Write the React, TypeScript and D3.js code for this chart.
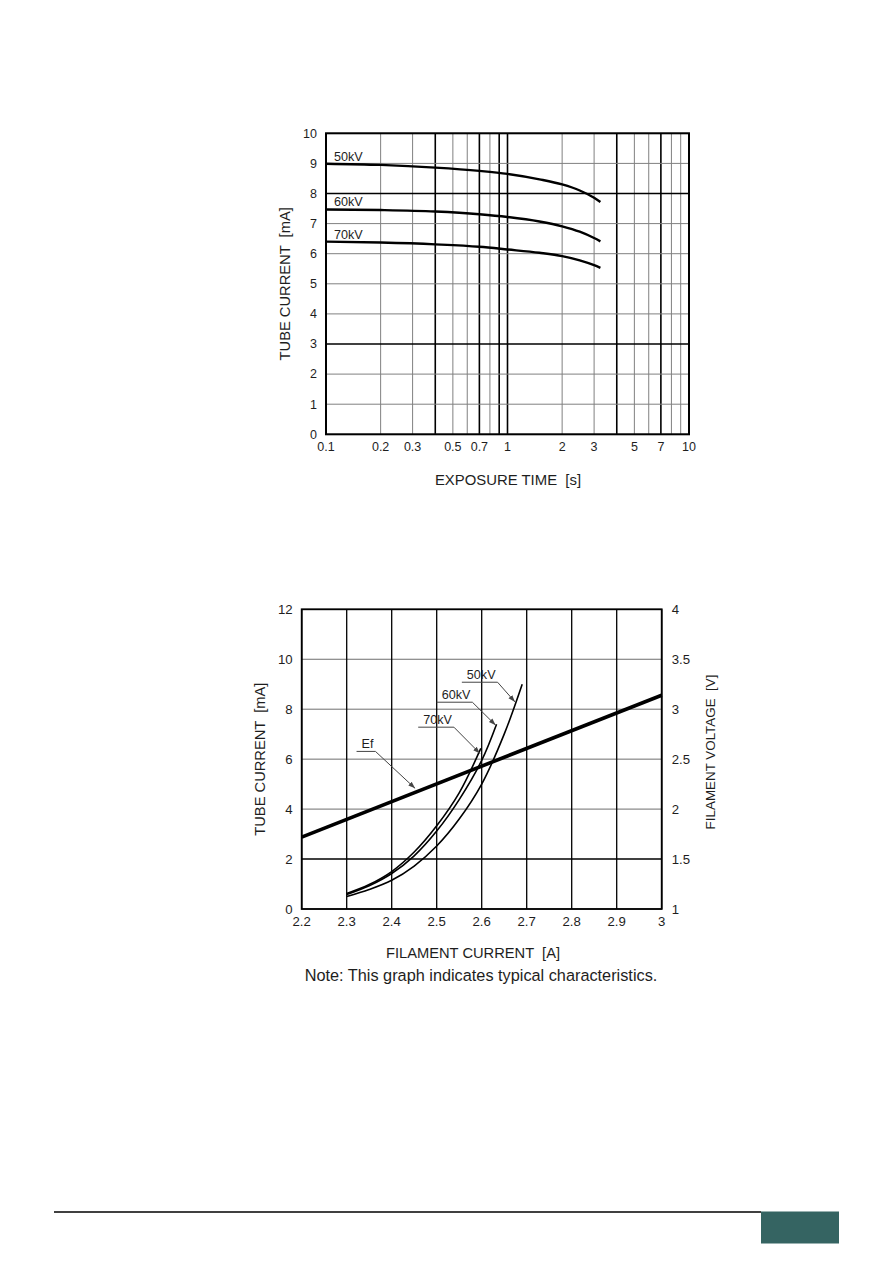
import React, { useEffect, useRef } from "react";
import * as d3 from "d3";

// ---------- Chart 1: tube current vs exposure time ----------
const expTickLabels = [0.1, 0.2, 0.3, 0.5, 0.7, 1, 2, 3, 5, 7, 10];
const expThick = [0.4, 0.7, 0.9, 1, 4, 7];
const maTicksTop = [0, 1, 2, 3, 4, 5, 6, 7, 8, 9, 10];
const maThickTop = [3, 8];
const exposureTime = [0.1, 0.2, 0.4, 0.7, 1, 1.5, 2, 2.5, 3, 3.25];
const kv50Top = [8.99, 8.95, 8.86, 8.75, 8.65, 8.47, 8.3, 8.1, 7.86, 7.72];
const kv60Top = [7.47, 7.45, 7.4, 7.31, 7.22, 7.07, 6.91, 6.73, 6.52, 6.41];
const kv70Top = [6.4, 6.37, 6.31, 6.23, 6.14, 6.03, 5.92, 5.78, 5.62, 5.53];
const topSeriesNames = ["50kV", "60kV", "70kV"];

// ---------- Chart 2: tube current / filament voltage vs filament current ----------
const filTicks = [2.2, 2.3, 2.4, 2.5, 2.6, 2.7, 2.8, 2.9, 3];
const maTicksBottom = [0, 2, 4, 6, 8, 10, 12];
const maThickBottom = [2];
const voltTicks = [1, 1.5, 2, 2.5, 3, 3.5, 4];
const fil50 = [2.3, 2.35, 2.4, 2.45, 2.5, 2.55, 2.6, 2.65, 2.69];
const ma50 = [0.5, 0.78, 1.15, 1.72, 2.52, 3.6, 5.0, 7.0, 9.0];
const fil60 = [2.3, 2.35, 2.4, 2.45, 2.5, 2.55, 2.6, 2.633];
const ma60 = [0.58, 0.93, 1.42, 2.13, 3.12, 4.38, 5.95, 7.4];
const fil70 = [2.3, 2.35, 2.4, 2.45, 2.5, 2.55, 2.598];
const ma70 = [0.62, 0.98, 1.5, 2.28, 3.33, 4.65, 6.43];
const efCurrent = [2.2, 3.0];
const efVoltage = [1.72, 3.14];
// annotations: label position (data units, mA) and arrow tip (data units, mA)
const annLabels = ["50kV", "60kV", "70kV", "Ef"];
const annLabelX = [2.567, 2.511, 2.47, 2.333];
const annLabelY = [9.2, 8.4, 7.4, 6.43];
const annTipX = [2.674, 2.631, 2.596, 2.452];
const annTipY = [8.29, 7.36, 6.23, 4.83];

const FONT = "'Liberation Sans', Arial, Helvetica, sans-serif";
const TXT = "#1e1e1e";

export default function App() {
  const ref = useRef<SVGSVGElement>(null);

  useEffect(() => {
    const svg = d3.select(ref.current);
    svg.selectAll("*").remove();

    const defs = svg.append("defs");
    defs
      .append("marker")
      .attr("id", "arr")
      .attr("viewBox", "0 0 10 10")
      .attr("refX", 10)
      .attr("refY", 5)
      .attr("markerWidth", 7)
      .attr("markerHeight", 7)
      .attr("orient", "auto")
      .attr("markerUnits", "userSpaceOnUse")
      .append("path")
      .attr("d", "M0,1.5 L10,5 L0,8.5 Z")
      .attr("fill", "#444");

    // ===== Top chart =====
    const x1 = d3.scaleLog().domain([0.1, 10]).range([326, 689]);
    const y1 = d3.scaleLinear().domain([0, 10]).range([434.3, 133.3]);
    const g1 = svg.append("g");

    const isThick = (d: number) => expThick.some((t) => Math.abs(t - d) < 1e-6);
    const gridX = x1.ticks();
    g1.selectAll("line.vx")
      .data(gridX)
      .join("line")
      .attr("x1", (d) => x1(d))
      .attr("x2", (d) => x1(d))
      .attr("y1", y1(0))
      .attr("y2", y1(10))
      .attr("stroke", (d) => (isThick(d) ? "#000" : "#808080"))
      .attr("stroke-width", (d) => (isThick(d) ? 1.6 : 1));
    g1.selectAll("line.hy")
      .data(maTicksTop)
      .join("line")
      .attr("x1", x1(0.1))
      .attr("x2", x1(10))
      .attr("y1", (d) => y1(d))
      .attr("y2", (d) => y1(d))
      .attr("stroke", (d) => (maThickTop.includes(d) ? "#000" : "#808080"))
      .attr("stroke-width", (d) => (maThickTop.includes(d) ? 1.6 : 1));
    g1.append("rect")
      .attr("x", x1(0.1))
      .attr("y", y1(10))
      .attr("width", x1(10) - x1(0.1))
      .attr("height", y1(0) - y1(10))
      .attr("fill", "none")
      .attr("stroke", "#000")
      .attr("stroke-width", 2);

    g1.selectAll("text.xt")
      .data(expTickLabels)
      .join("text")
      .attr("x", (d) => x1(d))
      .attr("y", y1(0) + 17)
      .attr("text-anchor", "middle")
      .attr("font-size", 12.5)
      .attr("font-family", FONT)
      .attr("fill", TXT)
      .text((d) => String(d));
    g1.selectAll("text.yt")
      .data(maTicksTop)
      .join("text")
      .attr("x", x1(0.1) - 9)
      .attr("y", (d) => y1(d) + 4.3)
      .attr("text-anchor", "end")
      .attr("font-size", 12.5)
      .attr("font-family", FONT)
      .attr("fill", TXT)
      .text((d) => String(d));

    const line1 = d3
      .line<[number, number]>()
      .x((d) => x1(d[0]))
      .y((d) => y1(d[1]))
      .curve(d3.curveMonotoneX);
    [kv50Top, kv60Top, kv70Top].forEach((vals, i) => {
      const pts = exposureTime.map((t, j) => [t, vals[j]] as [number, number]);
      g1.append("path")
        .attr("d", line1(pts))
        .attr("fill", "none")
        .attr("stroke", "#000")
        .attr("stroke-width", 2.4)
        .attr("stroke-linejoin", "round");
      g1.append("text")
        .attr("x", x1(exposureTime[0]) + 8)
        .attr("y", y1(vals[0]) - 3)
        .attr("font-size", 12.6)
        .attr("font-family", FONT)
        .attr("fill", TXT)
        .text(topSeriesNames[i]);
    });

    g1.append("text")
      .attr("transform", `translate(290,${(y1(0) + y1(10)) / 2}) rotate(-90)`)
      .attr("text-anchor", "middle")
      .attr("font-size", 14.7)
      .attr("font-family", FONT)
      .attr("fill", TXT)
      .attr("xml:space", "preserve")
      .text("TUBE CURRENT  [mA]");
    g1.append("text")
      .attr("x", 508)
      .attr("y", 485)
      .attr("text-anchor", "middle")
      .attr("font-size", 14.9)
      .attr("font-family", FONT)
      .attr("fill", TXT)
      .attr("xml:space", "preserve")
      .text("EXPOSURE TIME  [s]");

    // ===== Bottom chart =====
    const x2 = d3.scaleLinear().domain([2.2, 3]).range([301.7, 661.7]);
    const y2 = d3.scaleLinear().domain([0, 12]).range([909, 609.3]);
    const yv = d3.scaleLinear().domain([1, 4]).range([909, 609.3]);
    const g2 = svg.append("g");

    g2.selectAll("line.hy")
      .data(maTicksBottom)
      .join("line")
      .attr("x1", x2(2.2))
      .attr("x2", x2(3))
      .attr("y1", (d) => y2(d))
      .attr("y2", (d) => y2(d))
      .attr("stroke", (d) => (maThickBottom.includes(d) ? "#000" : "#6e6e6e"))
      .attr("stroke-width", (d) => (maThickBottom.includes(d) ? 1.4 : 1));
    g2.selectAll("line.vx")
      .data(filTicks)
      .join("line")
      .attr("x1", (d) => x2(d))
      .attr("x2", (d) => x2(d))
      .attr("y1", y2(0))
      .attr("y2", y2(12))
      .attr("stroke", "#000")
      .attr("stroke-width", 1.3);
    g2.append("rect")
      .attr("x", x2(2.2))
      .attr("y", y2(12))
      .attr("width", x2(3) - x2(2.2))
      .attr("height", y2(0) - y2(12))
      .attr("fill", "none")
      .attr("stroke", "#000")
      .attr("stroke-width", 1.8);

    g2.selectAll("text.xt")
      .data(filTicks)
      .join("text")
      .attr("x", (d) => x2(d))
      .attr("y", y2(0) + 17)
      .attr("text-anchor", "middle")
      .attr("font-size", 13.2)
      .attr("font-family", FONT)
      .attr("fill", TXT)
      .text((d) => String(d));
    g2.selectAll("text.yt")
      .data(maTicksBottom)
      .join("text")
      .attr("x", x2(2.2) - 9)
      .attr("y", (d) => y2(d) + 4.6)
      .attr("text-anchor", "end")
      .attr("font-size", 13.2)
      .attr("font-family", FONT)
      .attr("fill", TXT)
      .text((d) => String(d));
    g2.selectAll("text.vt")
      .data(voltTicks)
      .join("text")
      .attr("x", x2(3) + 10)
      .attr("y", (d) => yv(d) + 4.6)
      .attr("text-anchor", "start")
      .attr("font-size", 13.2)
      .attr("font-family", FONT)
      .attr("fill", TXT)
      .text((d) => String(d));

    const line2 = d3
      .line<[number, number]>()
      .x((d) => x2(d[0]))
      .y((d) => y2(d[1]))
      .curve(d3.curveCatmullRom.alpha(0.5));
    [
      [fil50, ma50],
      [fil60, ma60],
      [fil70, ma70],
    ].forEach(([xs, ys]) => {
      const pts = xs.map((v, j) => [v, ys[j]] as [number, number]);
      g2.append("path")
        .attr("d", line2(pts))
        .attr("fill", "none")
        .attr("stroke", "#000")
        .attr("stroke-width", 1.6);
    });
    const efLine = d3
      .line<[number, number]>()
      .x((d) => x2(d[0]))
      .y((d) => yv(d[1]));
    g2.append("path")
      .attr("d", efLine(efCurrent.map((c, j) => [c, efVoltage[j]] as [number, number])))
      .attr("fill", "none")
      .attr("stroke", "#000")
      .attr("stroke-width", 3.6);

    annLabels.forEach((lab, i) => {
      const tx = x2(annLabelX[i]);
      const ty = y2(annLabelY[i]);
      const t = g2
        .append("text")
        .attr("x", tx)
        .attr("y", ty)
        .attr("font-size", 12.6)
        .attr("font-family", FONT)
        .attr("fill", TXT)
        .text(lab);
      const w = (t.node() as SVGTextElement).getComputedTextLength();
      const uy = ty + 3;
      const ux0 = tx - 5;
      const ux1 = tx + w + 2;
      g2.append("path")
        .attr("d", `M${ux0},${uy} L${ux1},${uy} L${x2(annTipX[i])},${y2(annTipY[i])}`)
        .attr("fill", "none")
        .attr("stroke", "#444")
        .attr("stroke-width", 1)
        .attr("marker-end", "url(#arr)");
    });

    g2.append("text")
      .attr("transform", `translate(265,${(y2(0) + y2(12)) / 2}) rotate(-90)`)
      .attr("text-anchor", "middle")
      .attr("font-size", 14.7)
      .attr("font-family", FONT)
      .attr("fill", TXT)
      .attr("xml:space", "preserve")
      .text("TUBE CURRENT  [mA]");
    g2.append("text")
      .attr("transform", `translate(715,752) rotate(-90)`)
      .attr("text-anchor", "middle")
      .attr("font-size", 13.4)
      .attr("font-family", FONT)
      .attr("fill", TXT)
      .attr("xml:space", "preserve")
      .text("FILAMENT VOLTAGE  [V]");
    g2.append("text")
      .attr("x", 473)
      .attr("y", 958)
      .attr("text-anchor", "middle")
      .attr("font-size", 14.7)
      .attr("font-family", FONT)
      .attr("fill", TXT)
      .attr("xml:space", "preserve")
      .text("FILAMENT CURRENT  [A]");
    g2.append("text")
      .attr("x", 481)
      .attr("y", 981)
      .attr("text-anchor", "middle")
      .attr("font-size", 16.3)
      .attr("font-family", FONT)
      .attr("fill", TXT)
      .text("Note: This graph indicates typical characteristics.");

    // ===== Footer =====
    svg.append("line")
      .attr("x1", 54)
      .attr("x2", 761)
      .attr("y1", 1212)
      .attr("y2", 1212)
      .attr("stroke", "#000")
      .attr("stroke-width", 1.3);
    svg.append("rect")
      .attr("x", 761)
      .attr("y", 1211.5)
      .attr("width", 78)
      .attr("height", 32)
      .attr("fill", "#356462");
  }, []);

  return (
    <svg
      ref={ref}
      width={893}
      height={1263}
      style={{ position: "absolute", left: 0, top: 0, background: "#fff" }}
    />
  );
}
